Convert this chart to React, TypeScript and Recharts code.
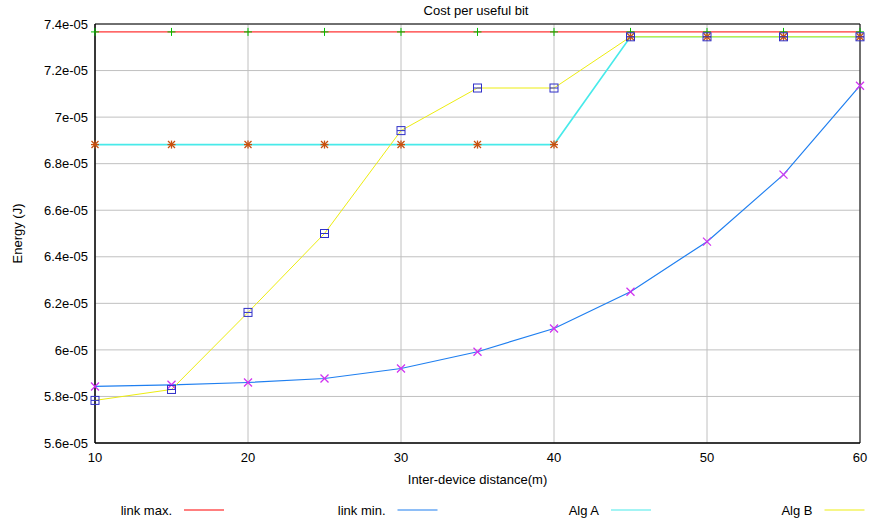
import React from 'react';
import { LineChart, Line, XAxis, YAxis, CartesianGrid, ReferenceArea } from 'recharts';

const distance = [10, 15, 20, 25, 30, 35, 40, 45, 50, 55, 60];
const linkMax = [7.366e-5, 7.366e-5, 7.366e-5, 7.366e-5, 7.366e-5, 7.366e-5, 7.366e-5, 7.366e-5, 7.366e-5, 7.366e-5, 7.366e-5];
const linkMin = [5.843e-5, 5.85e-5, 5.86e-5, 5.877e-5, 5.92e-5, 5.992e-5, 6.092e-5, 6.25e-5, 6.465e-5, 6.753e-5, 7.135e-5];
const algA = [6.882e-5, 6.882e-5, 6.882e-5, 6.882e-5, 6.882e-5, 6.882e-5, 6.882e-5, 7.345e-5, 7.345e-5, 7.345e-5, 7.345e-5];
const algB = [5.783e-5, 5.83e-5, 6.161e-5, 6.5e-5, 6.942e-5, 7.125e-5, 7.125e-5, 7.345e-5, 7.345e-5, 7.345e-5, 7.345e-5];

const xTicks = [10, 20, 30, 40, 50, 60];
const yTicks = [5.6e-5, 5.8e-5, 6e-5, 6.2e-5, 6.4e-5, 6.6e-5, 6.8e-5, 7e-5, 7.2e-5, 7.4e-5];

const seriesNames = ['link max.', 'link min.', 'Alg A', 'Alg B'];
const seriesColors = ['#ff0000', '#1f7ff0', '#48eaea', '#eded10'];

const data = distance.map((d, i) => ({
  d,
  linkMax: linkMax[i],
  linkMin: linkMin[i],
  algA: algA[i],
  algB: algB[i],
}));

const FONT = '"Liberation Sans", Arial, sans-serif';
const FS = 13;

const fmtY = (v: number) => v.toExponential().replace(/e-(\d)$/, 'e-0$1');

// gnuplot-like point types
const PlusDot = (p: any) => {
  const { cx, cy } = p;
  if (cx == null || cy == null) return null;
  return (
    <g key={`p-${p.index}`} stroke="#00c000" strokeWidth={1}>
      <line x1={cx - 4} y1={cy} x2={cx + 4} y2={cy} />
      <line x1={cx} y1={cy - 4} x2={cx} y2={cy + 4} />
    </g>
  );
};

const CrossDot = (p: any) => {
  const { cx, cy } = p;
  if (cx == null || cy == null) return null;
  return (
    <g key={`x-${p.index}`} stroke="#d030f0" strokeWidth={1.3}>
      <line x1={cx - 4} y1={cy - 4} x2={cx + 4} y2={cy + 4} />
      <line x1={cx - 4} y1={cy + 4} x2={cx + 4} y2={cy - 4} />
    </g>
  );
};

const StarDot = (p: any) => {
  const { cx, cy } = p;
  if (cx == null || cy == null) return null;
  return (
    <g key={`s-${p.index}`} stroke="#c8500e" strokeWidth={1.3}>
      <line x1={cx - 4} y1={cy} x2={cx + 4} y2={cy} />
      <line x1={cx} y1={cy - 4} x2={cx} y2={cy + 4} />
      <line x1={cx - 3.5} y1={cy - 3.5} x2={cx + 3.5} y2={cy + 3.5} />
      <line x1={cx - 3.5} y1={cy + 3.5} x2={cx + 3.5} y2={cy - 3.5} />
    </g>
  );
};

const BoxDot = (p: any) => {
  const { cx, cy } = p;
  if (cx == null || cy == null) return null;
  return (
    <g key={`b-${p.index}`} stroke="#3030c8" strokeWidth={1} fill="none">
      <rect x={cx - 4} y={cy - 4} width={8} height={8} />
      <line x1={cx - 4} y1={cy} x2={cx + 4} y2={cy} />
    </g>
  );
};

export default function App() {
  const legendStart = 184;
  const legendStep = 213.5;
  return (
    <div style={{ position: 'absolute', left: 0, top: 0, width: 872, height: 522, background: '#fff', fontFamily: FONT }}>
      <LineChart
        width={872}
        height={522}
        data={data}
        margin={{ top: 24, right: 12, bottom: 49, left: 0 }}
      >
        <CartesianGrid stroke="#c0c0c0" strokeWidth={1} />
        <XAxis
          dataKey="d"
          type="number"
          domain={[10, 60]}
          ticks={xTicks}
          tickSize={0}
          tickMargin={10}
          height={30}
          axisLine={{ stroke: '#000' }}
          tick={{ fill: '#000', fontSize: FS, fontFamily: FONT }}
          label={(props: any) => {
            const vb = props.viewBox;
            return (
              <text x={vb.x + vb.width / 2} y={484} textAnchor="middle" fontSize={FS} fontFamily={FONT} fill="#000">
                Inter-device distance(m)
              </text>
            );
          }}
        />
        <YAxis
          type="number"
          domain={[5.6e-5, 7.4e-5]}
          ticks={yTicks}
          tickFormatter={fmtY}
          width={95}
          tickSize={0}
          tickMargin={7}
          axisLine={{ stroke: '#000' }}
          tick={{ fill: '#000', fontSize: FS, fontFamily: FONT }}
          label={(props: any) => {
            const vb = props.viewBox;
            const cy = vb.y + vb.height / 2;
            return (
              <text x={22} y={cy} transform={`rotate(-90 22 ${cy})`} textAnchor="middle" fontSize={FS} fontFamily={FONT} fill="#000">
                Energy (J)
              </text>
            );
          }}
        />
        <ReferenceArea x1={10} x2={60} y1={5.6e-5} y2={7.4e-5} fill="none" stroke="#000" strokeWidth={1} strokeOpacity={1} />
        <Line dataKey="linkMax" stroke={seriesColors[0]} strokeWidth={1} dot={PlusDot} activeDot={false} isAnimationActive={false} />
        <Line dataKey="linkMin" stroke={seriesColors[1]} strokeWidth={1.2} dot={CrossDot} activeDot={false} isAnimationActive={false} />
        <Line dataKey="algA" stroke={seriesColors[2]} strokeWidth={1.6} dot={StarDot} activeDot={false} isAnimationActive={false} />
        <Line dataKey="algB" stroke={seriesColors[3]} strokeWidth={1} dot={BoxDot} activeDot={false} isAnimationActive={false} />
      </LineChart>
      <svg width={872} height={522} style={{ position: 'absolute', left: 0, top: 0, pointerEvents: 'none' }}>
        <text x={476} y={15} textAnchor="middle" fontSize={FS} fontFamily={FONT} fill="#000">
          Cost per useful bit
        </text>
        {seriesNames.map((name, i) => {
          const lx = legendStart + i * legendStep;
          return (
            <g key={name}>
              <text x={lx - 12} y={515} textAnchor="end" fontSize={FS} fontFamily={FONT} fill="#000">
                {name}
              </text>
              <line x1={lx} y1={510} x2={lx + 40} y2={510} stroke={seriesColors[i]} strokeWidth={1.2} />
            </g>
          );
        })}
      </svg>
    </div>
  );
}
